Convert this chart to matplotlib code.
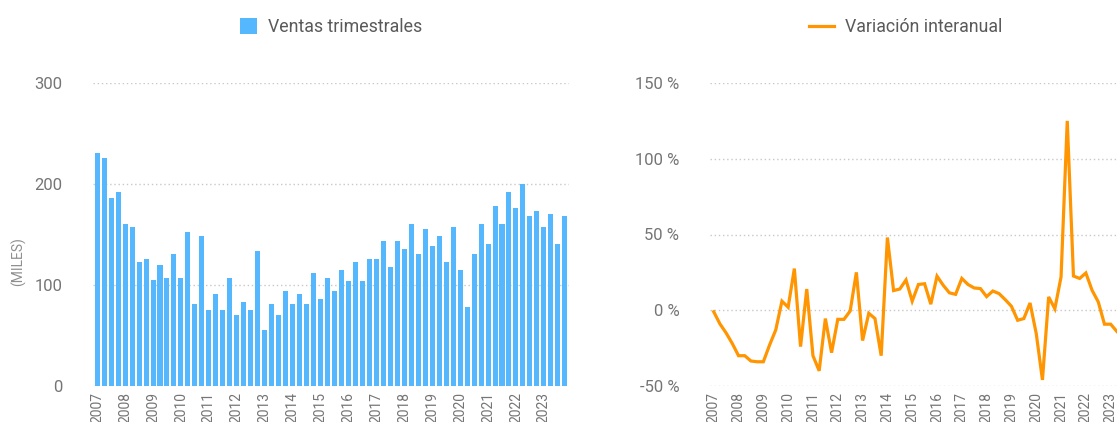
import matplotlib.pyplot as plt
import numpy as np
from matplotlib.patches import Patch
from matplotlib.lines import Line2D

plt.rcParams['font.family'] = ['Roboto', 'DejaVu Sans']

# Datos (trimestres 2007T1 - 2023T4)
years = list(range(2007, 2024))
ventas = [231, 226, 186, 192, 160, 157, 123, 126, 105, 120, 107, 131,
          107, 152, 81, 149, 75, 91, 75, 107, 70, 83, 75, 134,
          55, 81, 70, 94, 81, 91, 81, 112, 86, 107, 94, 115,
          104, 123, 104, 126, 126, 144, 118, 144, 136, 160, 131, 155,
          139, 149, 123, 157, 115, 78, 131, 160, 141, 178, 160, 192,
          176, 200, 168, 173, 157, 170, 141, 168]
variacion = [-1, -9, -15, -22, -30, -30, -33.5, -34, -34, -23, -13, 6,
             2, 27.5, -24, 14, -30, -40, -5.5, -28, -6, -6, -0.5, 25,
             -20, -2, -5.5, -30, 48, 13, 14, 20, 6, 17, 17.5, 4,
             22.5, 16.5, 11.5, 10.5, 21, 17, 14.7, 14.3, 9, 12.7, 11, 7,
             2.6, -6.6, -5.5, 4.8, -15.4, -46, 8.8, 1, 22, 125, 22.6, 21,
             24.6, 13.2, 5.5, -9.2, -9.2, -14]
ventas_ticks = [0, 100, 200, 300]
var_ticks = [-50, 0, 50, 100, 150]

BLUE = '#55B8FF'
ORANGE = '#FF9500'
TXT = '#757575'

W, H = 1117, 422
fig = plt.figure(figsize=(W / 100, H / 100), dpi=100)

def px_axes(x0, x1, y_top, y_bot):
    return fig.add_axes([x0 / W, (H - y_bot) / H, (x1 - x0) / W, (y_bot - y_top) / H])

def style(ax, yticks, ylabels):
    n = len(ventas)
    for s in ax.spines.values():
        s.set_visible(False)
    ax.set_yticks(yticks)
    ax.set_yticklabels(ylabels)
    ax.set_ylim(yticks[0], yticks[-1])
    ax.grid(axis='y', linestyle=(0, (1, 2)), color='#c8c8c8', linewidth=1)
    ax.set_axisbelow(True)
    ax.set_xticks(np.arange(0, n, 4))
    ax.set_xticklabels([str(y) for y in years], rotation=90, va='top')
    ax.set_xlim(-0.6, n - 0.4)
    ax.tick_params(axis='x', length=0, pad=4, labelsize=10, labelcolor=TXT)
    ax.tick_params(axis='y', length=0, pad=22, labelsize=12, labelcolor=TXT)

# Ventas trimestrales
ax1 = px_axes(93, 569, 83, 386)
x = np.arange(len(ventas))
ax1.bar(x, ventas, width=0.72, color=BLUE, edgecolor='none')
style(ax1, ventas_ticks, [str(v) for v in ventas_ticks])
fig.text(18 / W, (H - 262) / H, '(MILES)', rotation=90, ha='center', va='center',
         fontsize=10, color='#8f8f8f')
ax1.legend(handles=[Patch(facecolor=BLUE, edgecolor='none')], labels=['Ventas trimestrales'],
           loc='center', bbox_to_anchor=(0.5, 1.185), frameon=False, fontsize=12.8,
           labelcolor='#5a5a5a', handlelength=1.0, handleheight=1.0, handletextpad=0.6)

# Variación interanual
ax2 = px_axes(710, 1133, 83, 386)
ax2.plot(np.arange(len(variacion)), variacion, color=ORANGE, linewidth=2.3, solid_joinstyle='miter')
style(ax2, var_ticks, [f'{v} %' for v in var_ticks])
ax2.legend(handles=[Line2D([], [], color=ORANGE, linewidth=2.3)], labels=['Variación interanual'],
           loc='center', bbox_to_anchor=(0.463, 1.185), frameon=False, fontsize=12.8,
           labelcolor='#5a5a5a', handlelength=1.4, handletextpad=0.6)

fig.savefig('out.png', dpi=100)
